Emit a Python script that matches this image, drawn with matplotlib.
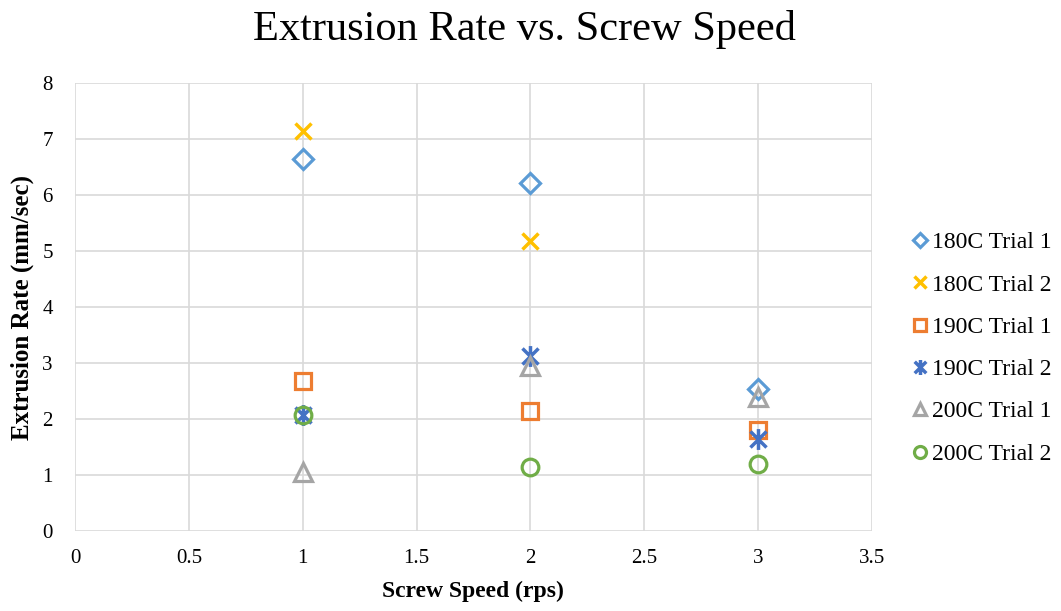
import matplotlib.pyplot as plt
from matplotlib.path import Path

plt.rcParams['font.family'] = ['Liberation Serif', 'DejaVu Serif']

speed = [1, 2, 3]
series_names = ['180C Trial 1', '180C Trial 2', '190C Trial 1',
                '190C Trial 2', '200C Trial 1', '200C Trial 2']
rate_180_t1 = [6.65, 6.21, 2.53]
rate_180_t2 = [7.15, 5.18, None]
rate_190_t1 = [2.67, 2.15, 1.80]
rate_190_t2 = [2.07, 3.13, 1.64]
rate_200_t1 = [1.05, 2.95, 2.40]
rate_200_t2 = [2.07, 1.14, 1.19]

# excel style "star": x with a vertical bar
star = Path([(-1, -1), (1, 1), (-1, 1), (1, -1), (0, -1.3), (0, 1.3)],
            [Path.MOVETO, Path.LINETO, Path.MOVETO, Path.LINETO, Path.MOVETO, Path.LINETO])

styles = [
    ('D', '#5B9BD5', 10.5),
    ('x', '#FFC000', 12),
    ('s', '#ED7D31', 11.5),
    (star, '#4472C4', 15),
    ('^', '#A5A5A5', 12.5),
    ('o', '#70AD47', 12),
]
data = [rate_180_t1, rate_180_t2, rate_190_t1, rate_190_t2, rate_200_t1, rate_200_t2]

fig = plt.figure(figsize=(10.61, 6.11), dpi=100)
ax = fig.add_axes([0.0707, 0.131, 0.751, 0.733])

for name, vals, (m, c, s) in zip(series_names, data, styles):
    xs = [x for x, v in zip(speed, vals) if v is not None]
    ys = [v for v in vals if v is not None]
    if m == 'x' or m is star:
        ax.plot(xs, ys, linestyle='none', marker=m, markersize=s, color=c,
                markeredgewidth=2.5, label=name, zorder=3)
    else:
        ax.plot(xs, ys, linestyle='none', marker=m, markersize=s, markerfacecolor='none',
                markeredgecolor=c, markeredgewidth=2.3, label=name, zorder=3)

ax.set_xlim(0, 3.5)
ax.set_ylim(0, 8)
ax.set_xticks([0, 0.5, 1, 1.5, 2, 2.5, 3, 3.5])
ax.set_xticklabels(['0', '0.5', '1', '1.5', '2', '2.5', '3', '3.5'])
ax.set_yticks(range(9))
ax.grid(True, color='#D9D9D9', linewidth=1.2)
ax.set_axisbelow(True)
for sp in ax.spines.values():
    sp.set_visible(False)
ax.tick_params(length=0, labelsize=15)
ax.tick_params(axis='x', pad=13)
ax.tick_params(axis='y', pad=16)

fig.suptitle('Extrusion Rate vs. Screw Speed', fontsize=30.5, x=0.494, y=0.935, va='baseline')
ax.set_xlabel('Screw Speed (rps)', fontsize=17, fontweight='bold', labelpad=9)
ax.set_ylabel('Extrusion Rate (mm/sec)', fontsize=18, fontweight='bold', labelpad=6)

fig.legend(*ax.get_legend_handles_labels(), loc='center left',
           bbox_to_anchor=(0.856, 0.43), frameon=False, borderpad=0, borderaxespad=0,
           fontsize=17, handletextpad=0.0, labelspacing=0.88, handlelength=1.0,
           markerscale=0.72)

fig.savefig('out.png', dpi=100)
